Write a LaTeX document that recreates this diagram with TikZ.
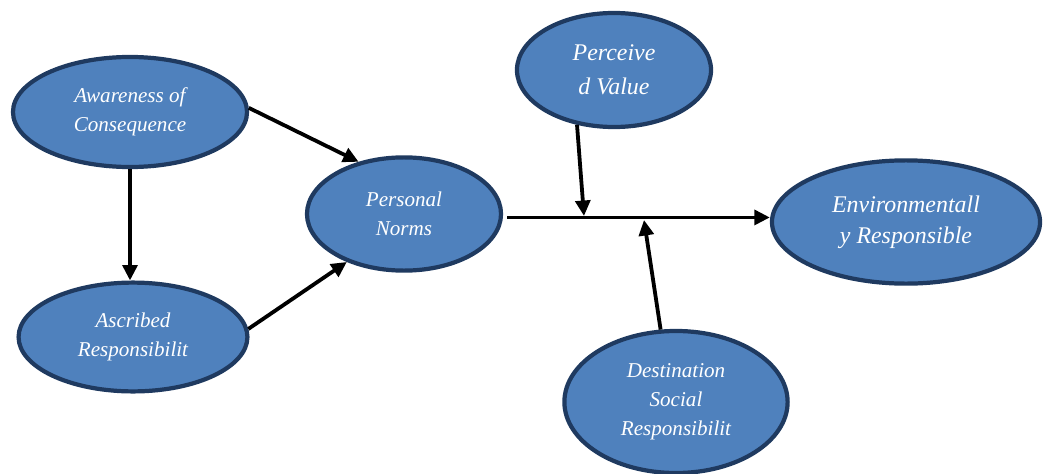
\documentclass[tikz,border=0pt]{standalone}
\usepackage{fontspec}
\setmainfont{Liberation Serif}
\usepackage{tikz}
\definecolor{nblue}{HTML}{4F81BD}
\definecolor{nedge}{HTML}{1F3A60}
\usetikzlibrary{shapes,arrows,arrows.meta}

\begin{document}
\begin{tikzpicture}[x=0.025cm,y=-0.025cm]
    \tikzset{nd/.style={
      ellipse,
      draw=nedge,
      fill=nblue,
      line width=3pt,
      inner sep=0pt,
      text=white,
      align=center,
      font=\fontsize{15}{20.5}\selectfont\itshape},
      big/.style={font=\fontsize{17}{22}\selectfont\itshape},
      arr/.style={-{Triangle[length=11pt,width=10.5pt]},line width=2.7pt}}
    \useasboundingbox (0,0) rectangle (1044,473);
    \node[nd,minimum width=5.85cm,minimum height=2.75cm] at (130,112) (aw) {Awareness of\\ Consequence};
    \node[nd,minimum width=5.72cm,minimum height=2.72cm] at (133,337) (as) {Ascribed\\ Responsibilit};
    \node[nd,minimum width=4.85cm,minimum height=2.83cm] at (404,214) (pn) {Personal\\ Norms};
    \node[nd,big,minimum width=4.85cm,minimum height=2.85cm,font=\fontsize{17}{24}\selectfont\itshape] at (614,70) (pv) {Perceive\\ d Value};
    \node[nd,big,minimum width=6.7cm,minimum height=3.08cm] at (906,222) (er) {Environmentall\\ y Responsible};
    \node[nd,minimum width=5.58cm,minimum height=3.55cm] at (676,402) (ds) {Destination\\ Social\\ Responsibilit};

    \coordinate (j1) at (584,216);
    \coordinate (j2) at (644,220);

    \draw[arr] (aw.2) -- (pn.131);
    \draw[arr] (aw.south) -- (aw.south |- as.north);
    \draw[arr] (as.4) -- (pn.220);
    \draw[arr,shorten <=3pt] (pn.-2) -- (pn.-2 -| er.west);
    \draw[arr] (pv.236) -- (j1);
    \draw[arr] (ds.102) -- (j2);
  \end{tikzpicture}
\end{document}
